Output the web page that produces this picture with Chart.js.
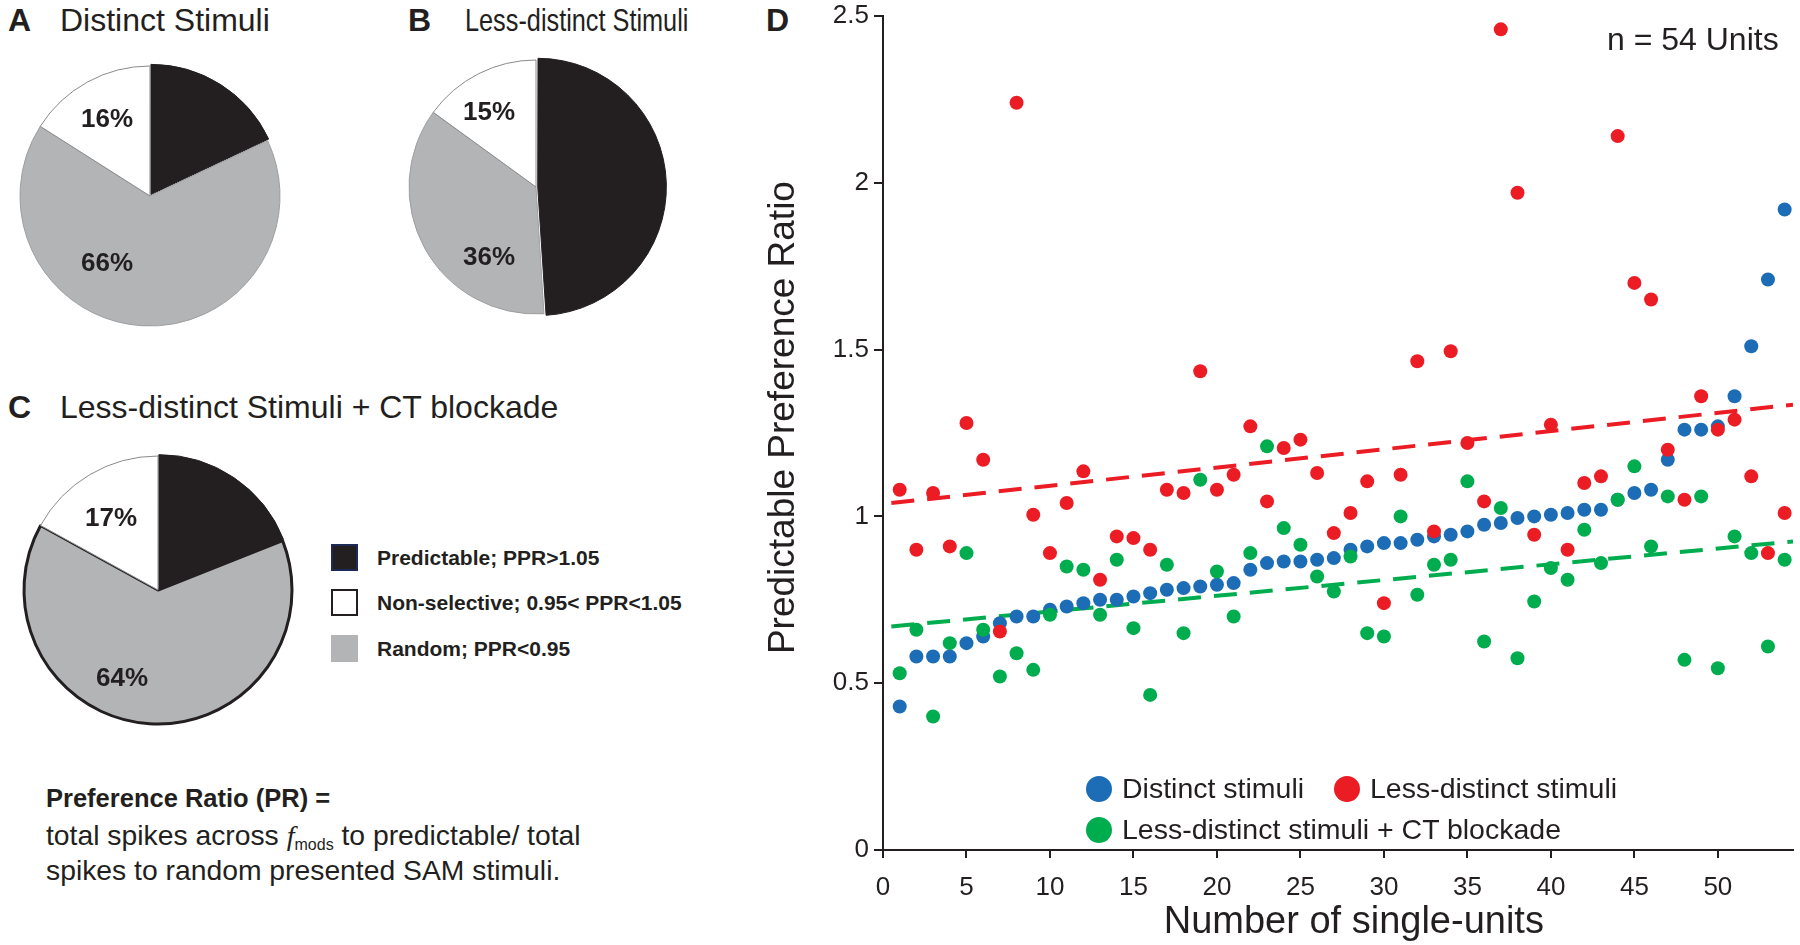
<!DOCTYPE html>
<html>
<head>
<meta charset="utf-8">
<script src="https://cdn.jsdelivr.net/npm/chart.js@4"></script>
<style>
  html, body { margin: 0; padding: 0; background: #fff; }
  #fig { position: relative; width: 1800px; height: 945px; overflow: hidden;
         font-family: "Liberation Sans", Arial, sans-serif; color: #231f20; }
  .t { position: absolute; white-space: nowrap; line-height: 1; }
  .b { font-weight: bold; }
  .c { transform: translate(-50%, -50%); }
  canvas { position: absolute; }
  .row { position: absolute; left: 331px; height: 27px; display: flex; align-items: center;
         font-weight: bold; font-size: 21px; white-space: nowrap; }
  .sw { width: 27px; height: 27px; box-sizing: border-box; margin-right: 19px; }
  .lg { position: absolute; display: flex; align-items: center; font-size: 28.5px; white-space: nowrap; }
  .dot { width: 26px; height: 26px; border-radius: 50%; margin-right: 10px; }
  sub { font-size: 16px; vertical-align: -5px; line-height: 0; }
</style>
</head>
<body>
<div id="fig">
  <div class="t b" style="left:8px;top:4px;font-size:32px">A</div>
  <div class="t" style="left:60px;top:4px;font-size:32px">Distinct Stimuli</div>
  <div class="t b" style="left:408px;top:4px;font-size:32px">B</div>
  <div class="t" style="left:465px;top:4px;font-size:32px;transform:scaleX(0.79);transform-origin:left center">Less-distinct Stimuli</div>
  <div class="t b" style="left:8px;top:391px;font-size:32px">C</div>
  <div class="t" style="left:60px;top:391px;font-size:32px">Less-distinct Stimuli + CT blockade</div>
  <div class="t b" style="left:766px;top:4px;font-size:32px">D</div>

  <canvas id="pieA" width="290" height="290" style="left:5px;top:51px"></canvas>
  <canvas id="pieB" width="290" height="290" style="left:391px;top:42px"></canvas>
  <canvas id="pieC" width="300" height="300" style="left:8px;top:440px"></canvas>
  <div id="pieText"></div>
  <div id="pieLegend"></div>

  <div class="t b" style="left:46px;top:786px;font-size:25.5px">Preference Ratio (PR) =</div>
  <div class="t" style="left:46px;top:821px;font-size:28.3px">total spikes across <i style="font-family:'Liberation Serif',serif">f</i><sub>mods</sub> to predictable/ total</div>
  <div class="t" style="left:46px;top:856px;font-size:28.3px">spikes to random presented SAM stimuli.</div>

  <canvas id="scatter" width="1060" height="945" style="left:740px;top:0px"></canvas>
  <div class="t" style="left:1607px;top:23px;font-size:32px">n = 54 Units</div>
  <div id="scatterLegend"></div>
</div>

<script>
// ---- pie data (A, B, C): share of units per class, in %
const classes = ['Predictable; PPR>1.05', 'Non-selective; 0.95< PPR<1.05', 'Random; PPR<0.95'];
const pctDistinct = [18, 16, 66];
const pctLessDistinct = [49, 15, 36];
const pctCTBlockade = [19, 17, 64];

// ---- scatter data (D): predictable preference ratio per single-unit
const units = [1, 2, 3, 4, 5, 6, 7, 8, 9, 10, 11, 12, 13, 14, 15, 16, 17, 18,
  19, 20, 21, 22, 23, 24, 25, 26, 27, 28, 29, 30, 31, 32, 33, 34, 35, 36,
  37, 38, 39, 40, 41, 42, 43, 44, 45, 46, 47, 48, 49, 50, 51, 52, 53, 54];
const distinct = [0.43, 0.58, 0.58, 0.58, 0.62, 0.64, 0.68, 0.70, 0.70, 0.72, 0.73, 0.74,
  0.75, 0.75, 0.76, 0.77, 0.78, 0.785, 0.79, 0.795, 0.80, 0.84, 0.86, 0.865, 0.865, 0.87,
  0.875, 0.90, 0.91, 0.92, 0.92, 0.93, 0.94, 0.945, 0.955, 0.975, 0.98, 0.995, 1.00, 1.005,
  1.01, 1.02, 1.02, 1.05, 1.07, 1.08, 1.17, 1.26, 1.26, 1.27, 1.36, 1.51, 1.71, 1.92];
const lessDistinct = [1.08, 0.90, 1.07, 0.91, 1.28, 1.17, 0.655, 2.24, 1.005, 0.89, 1.04, 1.135,
  0.81, 0.94, 0.935, 0.90, 1.08, 1.07, 1.435, 1.08, 1.125, 1.27, 1.045, 1.205, 1.23, 1.13,
  0.95, 1.01, 1.105, 0.74, 1.125, 1.465, 0.955, 1.495, 1.22, 1.045, 2.46, 1.97, 0.945, 1.275,
  0.90, 1.10, 1.12, 2.14, 1.70, 1.65, 1.20, 1.05, 1.36, 1.26, 1.29, 1.12, 0.89, 1.01];
const ctBlockade = [0.53, 0.66, 0.40, 0.62, 0.89, 0.66, 0.52, 0.59, 0.54, 0.705, 0.85, 0.84,
  0.705, 0.87, 0.665, 0.465, 0.855, 0.65, 1.11, 0.835, 0.70, 0.89, 1.21, 0.965, 0.915, 0.82,
  0.775, 0.88, 0.65, 0.64, 1.00, 0.765, 0.855, 0.87, 1.105, 0.625, 1.025, 0.575, 0.745, 0.845,
  0.81, 0.96, 0.86, 1.05, 1.15, 0.91, 1.06, 0.57, 1.06, 0.545, 0.94, 0.89, 0.61, 0.87];
// dashed linear fits, read at both ends of the axis
const fitX = [0.5, 54.5];
const fitLessDistinct = [1.04, 1.335];
const fitCTBlockade = [0.67, 0.925];

const xTicks = [0, 5, 10, 15, 20, 25, 30, 35, 40, 45, 50];
const yTicks = [0, 0.5, 1, 1.5, 2, 2.5];

// ---- styles
const INK = '#231f20';
const pieFill = ['#231f20', '#ffffff', '#b3b4b6'];
const drawOrder = [0, 2, 1];   // clockwise from 12 o'clock: predictable, random, non-selective
const BLUE = '#1c6db6', RED = '#ec1c24', GREEN = '#00ad4e';
const FONT = '"Liberation Sans", Arial, sans-serif';

function makePie(id, pct, radius, borders, widths, offset) {
  new Chart(document.getElementById(id), {
    type: 'pie',
    data: {
      labels: drawOrder.map(i => classes[i]),
      datasets: [{
        data: drawOrder.map(i => pct[i]),
        backgroundColor: drawOrder.map(i => pieFill[i]),
        borderColor: borders,
        borderWidth: widths,
        offset: [offset, 0, 0]
      }]
    },
    options: {
      responsive: false,
      animation: false,
      radius: radius,
      layout: { padding: 0 },
      plugins: { legend: { display: false }, tooltip: { enabled: false } }
    }
  });
}

makePie('pieA', pctDistinct, 130, [INK, '#9d9ea0', '#8a8a8a'], [1, 1, 1], 7);
makePie('pieB', pctLessDistinct, 127, [INK, '#9d9ea0', '#8a8a8a'], [1, 1, 1], 7);
makePie('pieC', pctCTBlockade, 134, [INK, INK, '#8a8a8a'], [1, 3, 1], 6);

// percentage labels for the non-selective and random slices
const pieLabelPos = [
  { pct: pctDistinct, pos: [null, [107, 118], [107, 262]] },
  { pct: pctLessDistinct, pos: [null, [489, 111], [489, 256]] },
  { pct: pctCTBlockade, pos: [null, [111, 517], [122, 677]] }
];
const pieText = document.getElementById('pieText');
pieLabelPos.forEach(p => {
  p.pos.forEach((xy, i) => {
    if (!xy) return;
    const d = document.createElement('div');
    d.className = 't b c';
    d.style.cssText = `left:${xy[0]}px;top:${xy[1]}px;font-size:26px`;
    d.textContent = p.pct[i] + '%';
    pieText.appendChild(d);
  });
});

// legend for the pies
const legendTops = [544, 589, 635];
const swatchBorder = ['2px solid #1d2a55', '2px solid ' + INK, 'none'];
const pieLegend = document.getElementById('pieLegend');
classes.forEach((name, i) => {
  const row = document.createElement('div');
  row.className = 'row';
  row.style.top = legendTops[i] + 'px';
  row.innerHTML = `<div class="sw" style="background:${pieFill[i]};border:${swatchBorder[i]}"></div><span>${name}</span>`;
  pieLegend.appendChild(row);
});

// ---- scatter
const pts = ys => units.map((u, i) => ({ x: u, y: ys[i] }));
const fit = ys => fitX.map((x, i) => ({ x, y: ys[i] }));

const series = [
  { label: 'Distinct stimuli', data: distinct, color: BLUE, order: 2 },
  { label: 'Less-distinct stimuli', data: lessDistinct, color: RED, order: 0 },
  { label: 'Less-distinct stimuli + CT blockade', data: ctBlockade, color: GREEN, order: 1 }
];

const datasets = series.map(s => ({
  type: 'scatter',
  label: s.label,
  data: pts(s.data),
  backgroundColor: s.color,
  borderWidth: 0,
  pointRadius: 7,
  order: s.order
}));
[[fitLessDistinct, RED], [fitCTBlockade, GREEN]].forEach(([ys, color]) => {
  datasets.push({
    type: 'line',
    label: 'fit',
    data: fit(ys),
    borderColor: color,
    borderWidth: 4,
    borderDash: [23, 13],
    pointRadius: 0,
    order: 5
  });
});

const axisCommon = {
  type: 'linear',
  grid: { drawOnChartArea: false, drawTicks: true, color: INK, lineWidth: 2 },
  border: { display: true, color: INK, width: 2 },
  ticks: { color: INK, font: { family: FONT, size: 26 }, callback: v => String(v) }
};

new Chart(document.getElementById('scatter'), {
  data: { datasets },
  options: {
    responsive: false,
    animation: false,
    layout: { padding: { top: 16, right: 1, left: 0, bottom: 0 } },
    plugins: { legend: { display: false }, tooltip: { enabled: false } },
    scales: {
      x: {
        ...axisCommon,
        min: 0, max: 54.5,
        grid: { ...axisCommon.grid, tickLength: 8 },
        ticks: { ...axisCommon.ticks, padding: 14, maxRotation: 0 },
        afterBuildTicks: s => { s.ticks = xTicks.map(v => ({ value: v })); },
        afterFit: s => { s.height = 95; s.paddingLeft = 0; s.paddingRight = 0; },
        // leading spaces nudge the title right of the axis centre, as in the figure
        title: { display: true, text: '   Number of single-units', color: INK,
                 font: { family: FONT, size: 38 }, padding: { top: 0, bottom: 0 } }
      },
      y: {
        ...axisCommon,
        min: 0, max: 2.5,
        grid: { ...axisCommon.grid, tickLength: 9 },
        ticks: { ...axisCommon.ticks, padding: 5 },
        afterBuildTicks: s => { s.ticks = yTicks.map(v => ({ value: v })); },
        afterFit: s => { s.width = 143; s.paddingTop = 0; s.paddingBottom = 0; },
        // leading spaces lift the rotated title slightly above the axis centre
        title: { display: true, text: '   Predictable Preference Ratio', color: INK,
                 font: { family: FONT, size: 37 }, padding: { top: 22, bottom: 0 } }
      }
    }
  }
});

// legend inside panel D
const legendSpots = [[1086, 772], [1334, 772], [1086, 813]];
const scatterLegend = document.getElementById('scatterLegend');
series.forEach((s, i) => {
  const d = document.createElement('div');
  d.className = 'lg';
  d.style.left = legendSpots[i][0] + 'px';
  d.style.top = legendSpots[i][1] + 'px';
  d.innerHTML = `<div class="dot" style="background:${s.color}"></div><span>${s.label}</span>`;
  scatterLegend.appendChild(d);
});
</script>
</body>
</html>
